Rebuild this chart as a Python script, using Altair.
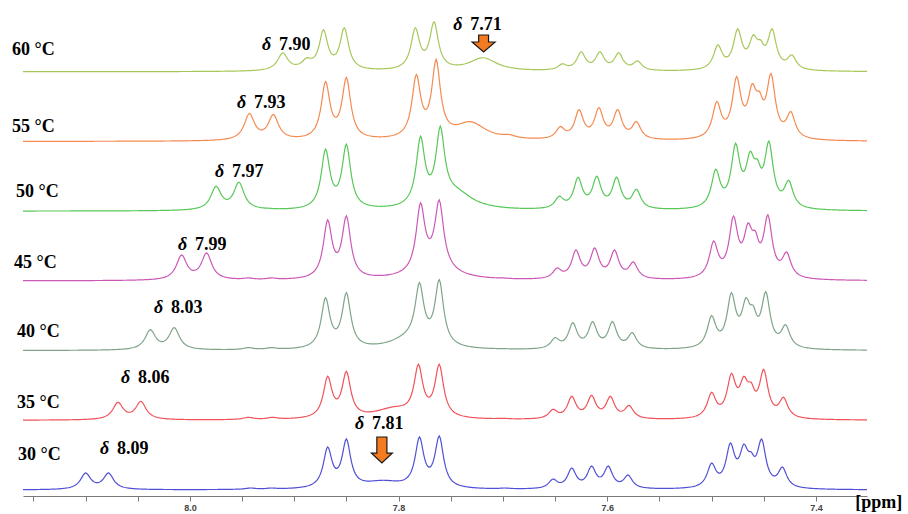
import numpy as np
import pandas as pd
import altair as alt

alt.data_transformers.disable_max_rows()

# ---------------- data ----------------
TEMPS = ["30 °C", "35 °C", "40 °C", "45 °C", "50 °C", "55 °C", "60 °C"]
COLORS = ["#5050d6", "#f0525a", "#7fa488", "#cc58b6", "#58c858", "#f58a50", "#a6c85a"]
SHIFT_TEXT = ["8.09", "8.06", "8.03", "7.99", "7.97", "7.93", "7.90"]

# (ppm, height above baseline, half width) of the resolved lines
PEAKS_30 = [(8.100, 17, 0.006), (8.078, 17, 0.006), (7.942, 2, 0.006), (7.922, 2, 0.006),
            (7.868, 43, 0.005), (7.850, 51, 0.005), (7.780, 53, 0.005), (7.761, 54, 0.005),
            (7.698, 2, 0.006), (7.652, 11, 0.005), (7.634, 22, 0.005), (7.615, 24, 0.005),
            (7.599, 24, 0.005), (7.580, 15, 0.005), (7.518, 2, 0.006), (7.500, 27, 0.005),
            (7.482, 47, 0.005), (7.469, 46, 0.005), (7.462, 38, 0.004), (7.452, 51, 0.005),
            (7.432, 23, 0.005)]
PEAKS_35 = [(8.069, 18, 0.006), (8.047, 19, 0.006), (7.944, 3, 0.006), (7.921, 3, 0.006),
            (7.868, 44, 0.005), (7.850, 49, 0.005), (7.781, 56, 0.005), (7.761, 56, 0.005),
            (7.700, 2, 0.006), (7.652, 11, 0.005), (7.634, 24, 0.005), (7.615, 25, 0.005),
            (7.597, 24, 0.005), (7.579, 15, 0.005), (7.518, 2, 0.006), (7.500, 28, 0.005),
            (7.481, 47, 0.005), (7.469, 44, 0.005), (7.462, 38, 0.004), (7.450, 51, 0.005),
            (7.431, 23, 0.005)]
PEAKS_40 = [(8.038, 21, 0.006), (8.015, 23, 0.006), (7.944, 3, 0.006), (7.922, 3, 0.006),
            (7.870, 53, 0.005), (7.850, 58, 0.005), (7.780, 68, 0.005), (7.761, 71, 0.005),
            (7.700, 2, 0.006), (7.650, 13, 0.005), (7.633, 28, 0.005), (7.614, 29, 0.005),
            (7.595, 29, 0.005), (7.576, 18, 0.005), (7.518, 2, 0.006), (7.500, 35, 0.005),
            (7.481, 58, 0.005), (7.467, 53, 0.005), (7.460, 45, 0.004), (7.448, 59, 0.005),
            (7.429, 26, 0.005)]
PEAKS_45 = [(8.008, 26, 0.006), (7.984, 28, 0.006), (7.944, 3, 0.006), (7.922, 3, 0.006),
            (7.868, 61, 0.005), (7.850, 65, 0.005), (7.779, 78, 0.005), (7.761, 81, 0.005),
            (7.700, 3, 0.006), (7.648, 13, 0.005), (7.630, 31, 0.005), (7.612, 33, 0.005),
            (7.593, 31, 0.005), (7.575, 19, 0.005), (7.518, 2, 0.006), (7.498, 40, 0.005),
            (7.479, 65, 0.005), (7.465, 58, 0.005), (7.458, 50, 0.004), (7.446, 66, 0.005),
            (7.428, 29, 0.005)]
PEAKS_50 = [(7.975, 25, 0.006), (7.953, 29, 0.006), (7.925, 3, 0.006),
            (7.870, 62, 0.005), (7.850, 67, 0.005), (7.779, 75, 0.005), (7.760, 85, 0.005),
            (7.700, 4, 0.007), (7.646, 15, 0.005), (7.628, 34, 0.005), (7.610, 35, 0.005),
            (7.591, 34, 0.005), (7.572, 22, 0.005), (7.518, 2, 0.006), (7.496, 42, 0.005),
            (7.477, 68, 0.005), (7.463, 60, 0.005), (7.456, 52, 0.004), (7.445, 70, 0.005),
            (7.426, 31, 0.005)]
PEAKS_55 = [(7.943, 28, 0.006), (7.920, 27, 0.006),
            (7.870, 60, 0.005), (7.850, 64, 0.005), (7.783, 67, 0.005), (7.764, 82, 0.005),
            (7.694, 7, 0.008), (7.645, 15, 0.005), (7.627, 32, 0.005), (7.608, 34, 0.005),
            (7.590, 32, 0.005), (7.572, 20, 0.005), (7.518, 2, 0.006), (7.495, 40, 0.005),
            (7.476, 65, 0.005), (7.461, 58, 0.005), (7.454, 50, 0.004), (7.443, 68, 0.005),
            (7.424, 30, 0.005)]
PEAKS_60 = [(7.911, 19, 0.006), (7.888, 14, 0.006),
            (7.872, 42, 0.005), (7.852, 44, 0.005), (7.784, 44, 0.005), (7.766, 50, 0.005),
            (7.700, 6, 0.008), (7.643, 8, 0.005), (7.625, 20, 0.005), (7.607, 20, 0.005),
            (7.589, 19, 0.005), (7.571, 11, 0.005), (7.518, 2, 0.006), (7.494, 27, 0.005),
            (7.475, 43, 0.005), (7.460, 37, 0.005), (7.453, 32, 0.004), (7.442, 43, 0.005),
            (7.423, 17, 0.005)]
PEAK_LISTS = [PEAKS_30, PEAKS_35, PEAKS_40, PEAKS_45, PEAKS_50, PEAKS_55, PEAKS_60]

# broad exchange-averaged signal (δ 7.81 at 30 °C -> δ 7.71 at 60 °C): (ppm, height, half width)
BROAD = [(7.815, 7, 0.022), (7.805, 10, 0.022), (7.790, 10, 0.022), (7.765, 12, 0.022),
         (7.745, 16, 0.020), (7.731, 17, 0.018), (7.719, 13, 0.016)]

PPM_LEFT, PPM_RIGHT = 8.16, 7.351
TICK_VALUES = [round(8.15 - 0.05 * i, 2) for i in range(17)]

# ---------------- spectra from the peak lists ----------------
grid = np.round(np.arange(PPM_RIGHT, PPM_LEFT + 1e-9, 0.001), 4)


def lorentz(x, c, w):
    return 1.0 / (1.0 + ((x - c) / w) ** 2)


def trace(peaks, broad):
    pos = np.array([p[0] for p in peaks])
    hgt = np.array([p[1] for p in peaks], dtype=float)
    wid = np.array([p[2] for p in peaks])
    bpos, bamp, bwid = broad
    target = hgt - bamp * lorentz(pos, bpos, bwid)
    active = np.ones(len(pos), dtype=bool)
    amp = np.zeros(len(pos))
    for _ in range(len(pos)):
        idx = np.where(active)[0]
        A = lorentz(pos[idx][:, None], pos[idx][None, :], wid[idx][None, :])
        sol = np.linalg.solve(A, target[idx])
        if (sol >= 0).all():
            amp[:] = 0
            amp[idx] = sol
            break
        active[idx[np.argmin(sol)]] = False
    y = (lorentz(grid[:, None], pos[None, :], wid[None, :]) * amp[None, :]).sum(axis=1)
    y += bamp * lorentz(grid, bpos, bwid)
    return y


STEP = 69.7   # vertical stacking offset
BASE = 6.0
frames = []
for i, (t, peaks, br) in enumerate(zip(TEMPS, PEAK_LISTS, BROAD)):
    frames.append(pd.DataFrame({"ppm": grid, "I": BASE + STEP * i + trace(peaks, br), "T": t}))
spec = pd.concat(frames, ignore_index=True)

xscale = alt.Scale(domain=[PPM_RIGHT, PPM_LEFT], reverse=True, nice=False, zero=False)
yscale = alt.Scale(domain=[0, 496], nice=False, zero=False)

label_expr = ("abs(datum.value*10 - round(datum.value*10)) < 0.01 && "
              "round(datum.value*10) % 2 == 0 ? format(datum.value, '.1f') : ''")

lines = alt.Chart(spec).mark_line(strokeWidth=1.2, interpolate="linear").encode(
    x=alt.X("ppm:Q", scale=xscale,
            axis=alt.Axis(values=TICK_VALUES, labelExpr=label_expr, title=None, grid=False,
                          tickSize=5, tickColor="#7a7a7a", domainColor="#7a7a7a",
                          labelFont="Liberation Sans", labelFontWeight="bold", labelFontSize=9,
                          labelColor="#444444", labelPadding=2, labelFlush=False)),
    y=alt.Y("I:Q", scale=yscale, axis=None),
    color=alt.Color("T:N", scale=alt.Scale(domain=TEMPS, range=COLORS), legend=None),
    detail="T:N",
    order="ppm:Q",
)

# ---------------- annotations ----------------
temp_lab = pd.DataFrame({
    "x": [8.1648, 8.1658, 8.1658, 8.1686, 8.1667, 8.1705, 8.1705],
    "y": [41, 93, 164, 233, 304, 369, 446],
    "t": TEMPS,
})
delta_lab = pd.DataFrame({
    "x": [8.0862, 8.0660, 8.0344, 8.0114, 7.9759, 7.9548, 7.9309, 7.8417, 7.7477],
    "y": [47, 118, 188, 251, 324, 393, 451, 72, 471],
    "t": SHIFT_TEXT + ["7.81", "7.71"],
})
serif = dict(font="Liberation Serif", fontWeight="bold", fontSize=18, color="black",
             align="left", baseline="middle")
temps_txt = alt.Chart(temp_lab).mark_text(**serif).encode(
    x=alt.X("x:Q", scale=xscale), y=alt.Y("y:Q", scale=yscale), text="t:N")
delta_sym = alt.Chart(delta_lab).mark_text(fontStyle="italic", **serif).encode(
    x=alt.X("x:Q", scale=xscale), y=alt.Y("y:Q", scale=yscale), text=alt.value("δ"))
delta_num = alt.Chart(delta_lab).mark_text(dx=17, **serif).encode(
    x=alt.X("x:Q", scale=xscale), y=alt.Y("y:Q", scale=yscale), text="t:N")

ppm_lab = pd.DataFrame({"x": [7.3398], "y": [-7], "t": ["[ppm]"]})
ppm_txt = alt.Chart(ppm_lab).mark_text(font="Liberation Serif", fontWeight="bold", fontSize=18,
                                       color="black", align="center", baseline="middle").encode(
    x=alt.X("x:Q", scale=xscale), y=alt.Y("y:Q", scale=yscale), text="t:N")

ARROW_A = "M -0.48 -1.24 L 0.48 -1.24 L 0.48 0.29 L 1 0.29 L 0 1.24 L -1 0.29 L -0.48 0.29 Z"
ARROW_B = "M -0.43 -0.74 L 0.43 -0.74 L 0.43 -0.13 L 1 -0.13 L 0 0.74 L -1 -0.13 L -0.43 -0.13 Z"
arr_a = alt.Chart(pd.DataFrame({"x": [7.816], "y": [46]})).mark_point(
    shape=ARROW_A, size=441, filled=True, fill="#f47b20", stroke="#1a1a1a", strokeWidth=1.2,
    opacity=1).encode(x=alt.X("x:Q", scale=xscale), y=alt.Y("y:Q", scale=yscale))
arr_b = alt.Chart(pd.DataFrame({"x": [7.7185], "y": [452.5]})).mark_point(
    shape=ARROW_B, size=529, filled=True, fill="#f47b20", stroke="#1a1a1a", strokeWidth=1.2,
    opacity=1).encode(x=alt.X("x:Q", scale=xscale), y=alt.Y("y:Q", scale=yscale))

chart = alt.layer(lines, temps_txt, delta_sym, delta_num, ppm_txt, arr_a, arr_b).properties(
    width=844, height=496,
    autosize=alt.AutoSizeParams(type="none"),
    padding={"left": 23, "top": 0, "right": 41, "bottom": 18},
    background="white",
).configure_view(stroke=None)

chart.save("out.html", embed_options={"renderer": "svg", "actions": False})
